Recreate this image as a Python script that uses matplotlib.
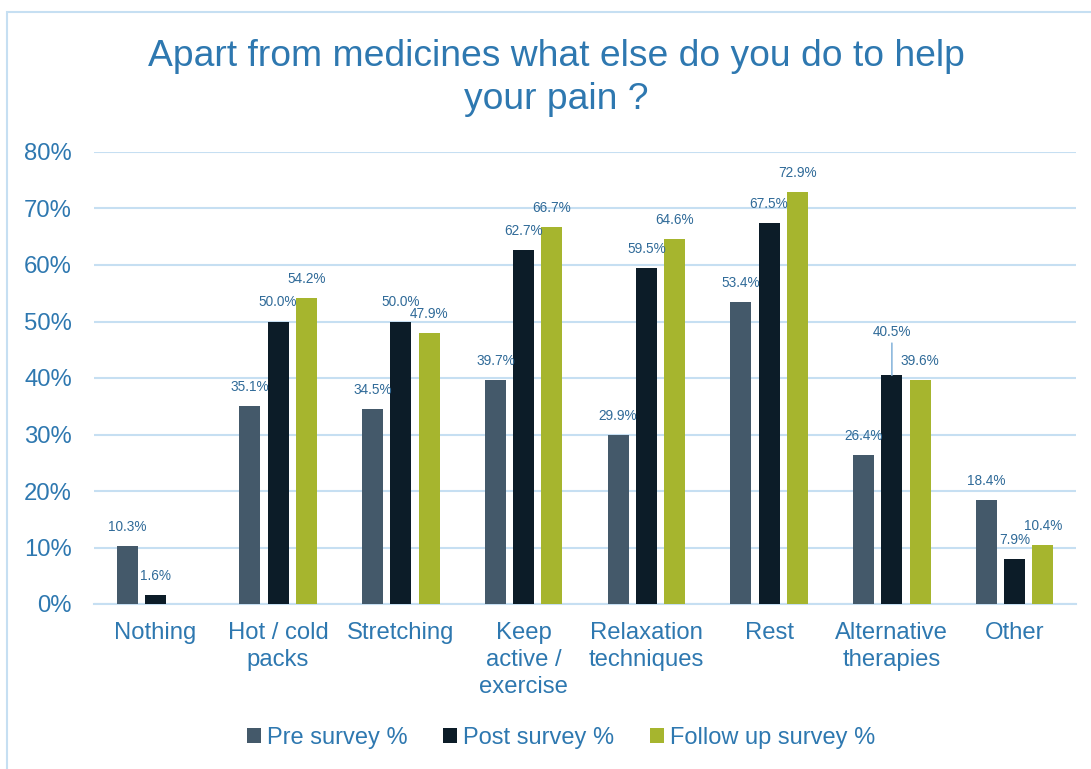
import matplotlib.pyplot as plt
import numpy as np
from matplotlib.patches import Rectangle, Patch

plt.rcParams['font.family'] = ['Liberation Sans', 'DejaVu Sans']

categories = ['Nothing', 'Hot / cold\npacks', 'Stretching', 'Keep\nactive /\nexercise',
              'Relaxation\ntechniques', 'Rest', 'Alternative\ntherapies', 'Other']
pre_survey = [10.3, 35.1, 34.5, 39.7, 29.9, 53.4, 26.4, 18.4]
post_survey = [1.6, 50.0, 50.0, 62.7, 59.5, 67.5, 40.5, 7.9]
follow_up = [np.nan, 54.2, 47.9, 66.7, 64.6, 72.9, 39.6, 10.4]
series_names = ['Pre survey %', 'Post survey %', 'Follow up survey %']

TEXT_BLUE = '#2E78B0'
LABEL_BLUE = '#2F6A98'
GRID_BLUE = '#C6DFF2'
colors = ['#44596A', '#0C1C28', '#A6B52E']

fig = plt.figure(figsize=(10.91, 7.69), dpi=100)
ax = fig.add_axes([94 / 1091, 1 - 604 / 769, (1076 - 94) / 1091, (604 - 152) / 769])

# light border around the whole chart
fig.patches.append(Rectangle((7 / 1091, -0.01), 1.1, 1 - 12 / 769 + 0.01,
                             transform=fig.transFigure, fill=False,
                             edgecolor=GRID_BLUE, linewidth=1.5))

x = np.arange(len(categories))
width = 0.17
step = 0.23
data = [pre_survey, post_survey, follow_up]

for i, (vals, col) in enumerate(zip(data, colors)):
    pos = x + (i - 1) * step
    heights = [v / 100 for v in vals]
    ax.bar(pos, heights, width, color=col, zorder=3)
    for k, (p, v) in enumerate(zip(pos, vals)):
        if np.isnan(v):
            continue
        lift = 19
        if i == 1 and categories[k] == 'Alternative\ntherapies':
            # this label is pushed up, with a leader line back to the bar
            lift = 43
            ax.annotate('', xy=(p, v / 100), xytext=(0, 32), textcoords='offset pixels',
                        arrowprops=dict(arrowstyle='-', color='#8DB8DD', lw=1.2,
                                        shrinkA=0, shrinkB=0))
        ax.annotate(f'{v:.1f}%', xy=(p, v / 100), xytext=(0, lift),
                    textcoords='offset pixels', ha='center', va='center',
                    fontsize=9.8, color=LABEL_BLUE, zorder=4)

ax.set_xlim(-0.5, len(categories) - 0.5)
ax.set_ylim(0, 0.8)
ticks = np.arange(0, 0.81, 0.1)
ax.set_yticks(ticks)
ax.set_yticklabels([f'{int(round(t * 100))}%' for t in ticks])
ax.set_xticks(x)
ax.set_xticklabels(categories, linespacing=1.28)
ax.tick_params(axis='both', length=0, labelsize=17.2, labelcolor=TEXT_BLUE)
ax.tick_params(axis='y', pad=16)
ax.tick_params(axis='x', pad=13)
ax.grid(axis='y', color=GRID_BLUE, linewidth=1.5, zorder=0)
ax.set_axisbelow(True)
for s in ['top', 'right', 'left']:
    ax.spines[s].set_visible(False)
ax.spines['bottom'].set_color(GRID_BLUE)
ax.spines['bottom'].set_linewidth(1.5)

fig.text(0.51, 1 - 78 / 769, 'Apart from medicines what else do you do to help\nyour pain ?',
         ha='center', va='center', fontsize=26.8, color=TEXT_BLUE, linespacing=1.3)

handles = [Patch(facecolor=c) for c in colors]
fig.legend(handles, series_names, loc='center', bbox_to_anchor=(561 / 1091, 1 - 738 / 769),
           ncol=3, frameon=False, fontsize=17, labelcolor=TEXT_BLUE,
           handlelength=0.6, handleheight=0.6, handletextpad=0.25, columnspacing=1.5)

fig.savefig('out.png', dpi=100)
